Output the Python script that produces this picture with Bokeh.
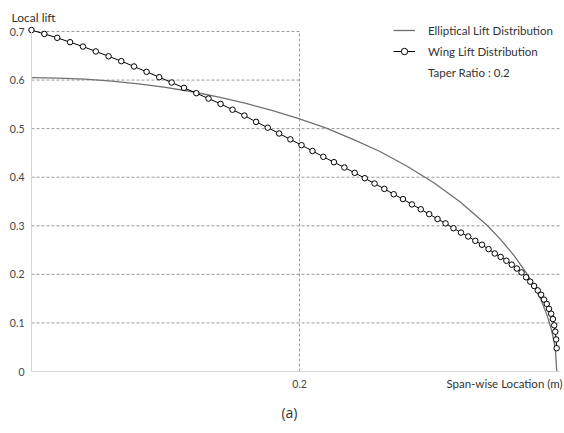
from bokeh.plotting import figure
from bokeh.models import Range1d, FixedTicker, Label, Legend, LegendItem
from bokeh.embed import file_html
from bokeh.resources import INLINE

# ---- data ----
ellip_x = [0.0, 0.02, 0.04, 0.06, 0.08, 0.10, 0.12, 0.14, 0.16, 0.18, 0.20, 0.22,
           0.24, 0.26, 0.28, 0.30, 0.32, 0.34, 0.35, 0.36, 0.37, 0.375, 0.38,
           0.385, 0.388, 0.39, 0.391, 0.392]
ellip_y = [0.605, 0.604, 0.602, 0.598, 0.592, 0.585, 0.576, 0.565, 0.552, 0.537,
           0.520, 0.501, 0.478, 0.453, 0.423, 0.389, 0.349, 0.301, 0.272, 0.239,
           0.200, 0.176, 0.149, 0.114, 0.086, 0.061, 0.043, 0.0]

wing_x = [0.0, 0.0096, 0.0192, 0.0288, 0.0384, 0.0480, 0.0575, 0.0670, 0.0765,
          0.0859, 0.0953, 0.1046, 0.1138, 0.1230, 0.1321, 0.1411, 0.1500, 0.1589,
          0.1676, 0.1763, 0.1848, 0.1932, 0.2015, 0.2097, 0.2178, 0.2257, 0.2335,
          0.2412, 0.2487, 0.2560, 0.2633, 0.2703, 0.2772, 0.2839, 0.2905, 0.2968,
          0.3030, 0.3090, 0.3149, 0.3205, 0.3259, 0.3312, 0.3362, 0.3411, 0.3457,
          0.3501, 0.3544, 0.3584, 0.3622, 0.3657, 0.3691, 0.3722, 0.3751, 0.3778,
          0.3803, 0.3825, 0.3845, 0.3862, 0.3878, 0.3891, 0.3901, 0.3909, 0.3915,
          0.3919]
wing_y = [0.703, 0.695, 0.687, 0.678, 0.669, 0.659, 0.649, 0.639, 0.628, 0.617,
          0.606, 0.595, 0.584, 0.573, 0.562, 0.551, 0.539, 0.527, 0.514, 0.502,
          0.490, 0.478, 0.466, 0.454, 0.442, 0.431, 0.420, 0.409, 0.398, 0.387,
          0.376, 0.365, 0.355, 0.344, 0.334, 0.324, 0.314, 0.305, 0.295, 0.286,
          0.278, 0.269, 0.261, 0.252, 0.243, 0.236, 0.228, 0.220, 0.212, 0.204,
          0.194, 0.185, 0.176, 0.167, 0.158, 0.148, 0.139, 0.129, 0.119, 0.108,
          0.095, 0.082, 0.066, 0.048]

y_ticks = [0, 0.1, 0.2, 0.3, 0.4, 0.5, 0.6, 0.7]
y_tick_labels = ["0", "0.1", "0.2", "0.3", "0.4", "0.5", "0.6", "0.7"]
x_ticks = [0.2]
x_tick_labels = ["0.2"]
grid_full = [0.1, 0.2, 0.3, 0.4, 0.5]
grid_short = [0.6, 0.7]

X_AX_END = 0.3948
Y_AX_END = 0.7

# frame covers the whole canvas; axes are pinned at x=0 / y=0
p = figure(width=564, height=433, output_backend="svg", toolbar_location=None,
           x_range=Range1d(-0.023134, 0.397761), y_range=Range1d(-0.12765, 0.76385),
           min_border=0)
p.title.visible = False
p.outline_line_color = None
p.xgrid.visible = False
p.ygrid.visible = False
p.background_fill_color = "white"
p.border_fill_color = "white"

FONT = "Lato"
AX_COL = "#d4d4d4"
TXT = "#444444"

for ax in (p.xaxis[0], p.yaxis[0]):
    ax.fixed_location = 0
    ax.axis_line_color = AX_COL
    ax.axis_line_width = 1
    ax.major_tick_line_color = None
    ax.minor_tick_line_color = None
    ax.major_label_text_font = FONT
    ax.major_label_text_font_size = "10.5px"
    ax.major_label_text_color = TXT

p.yaxis[0].ticker = FixedTicker(ticks=y_ticks)
p.yaxis[0].major_label_overrides = {t: l for t, l in zip(y_ticks, y_tick_labels)}
p.yaxis[0].major_label_standoff = 1
p.yaxis[0].bounds = (0, Y_AX_END)
p.xaxis[0].ticker = FixedTicker(ticks=x_ticks)
p.xaxis[0].major_label_overrides = {t: l for t, l in zip(x_ticks, x_tick_labels)}
p.xaxis[0].major_label_standoff = 2
p.xaxis[0].bounds = (0, X_AX_END)

# dashed grid lines
GRID = "#9a9a9a"
p.segment(x0=[0] * len(grid_full), y0=grid_full, x1=[X_AX_END] * len(grid_full), y1=grid_full,
          line_color=GRID, line_width=1, line_dash="3 2")
p.segment(x0=[0] * len(grid_short), y0=grid_short, x1=[x_ticks[0]] * len(grid_short),
          y1=grid_short, line_color=GRID, line_width=1, line_dash="3 2")
p.segment(x0=x_ticks, y0=[0], x1=x_ticks, y1=[Y_AX_END],
          line_color=GRID, line_width=1, line_dash="3 2")

# series
r_ell = p.line(ellip_x, ellip_y, line_color="#707070", line_width=1.3)
r_wl = p.line(wing_x, wing_y, line_color="black", line_width=1)
r_ws = p.scatter(wing_x, wing_y, marker="circle", size=5.5, line_color="black",
                 line_width=1, fill_color="white")
r_none = p.line([], [], line_alpha=0)

legend = Legend(items=[
    LegendItem(label="Elliptical Lift Distribution", renderers=[r_ell]),
    LegendItem(label="Wing Lift Distribution", renderers=[r_wl, r_ws]),
    LegendItem(label="Taper Ratio : 0.2", renderers=[r_none]),
], location=(393, 353))
legend.background_fill_alpha = 0
legend.border_line_color = None
legend.padding = 0
legend.margin = 0
legend.spacing = 5
legend.glyph_width = 22
legend.glyph_height = 16
legend.label_height = 16
legend.label_standoff = 13
legend.label_text_font = FONT
legend.label_text_font_size = "11.5px"
legend.label_text_color = "#333333"
p.add_layout(legend, "center")

# texts
p.add_layout(Label(x=-0.0149, y=0.7288, text="Local lift",
                   text_font=FONT, text_font_size="12px", text_color="#333333",
                   text_baseline="middle", text_align="left"))
p.add_layout(Label(x=0.3963, y=-0.0247, text="Span-wise Location (m)",
                   text_font=FONT, text_font_size="11.5px", text_color="#333333",
                   text_baseline="middle", text_align="right"))
p.add_layout(Label(x=0.1925, y=-0.0844, text="(a)",
                   text_font="Open Sans", text_font_size="14px", text_color="#333333",
                   text_baseline="middle", text_align="center"))

open("out.html", "w").write(file_html(p, INLINE))
